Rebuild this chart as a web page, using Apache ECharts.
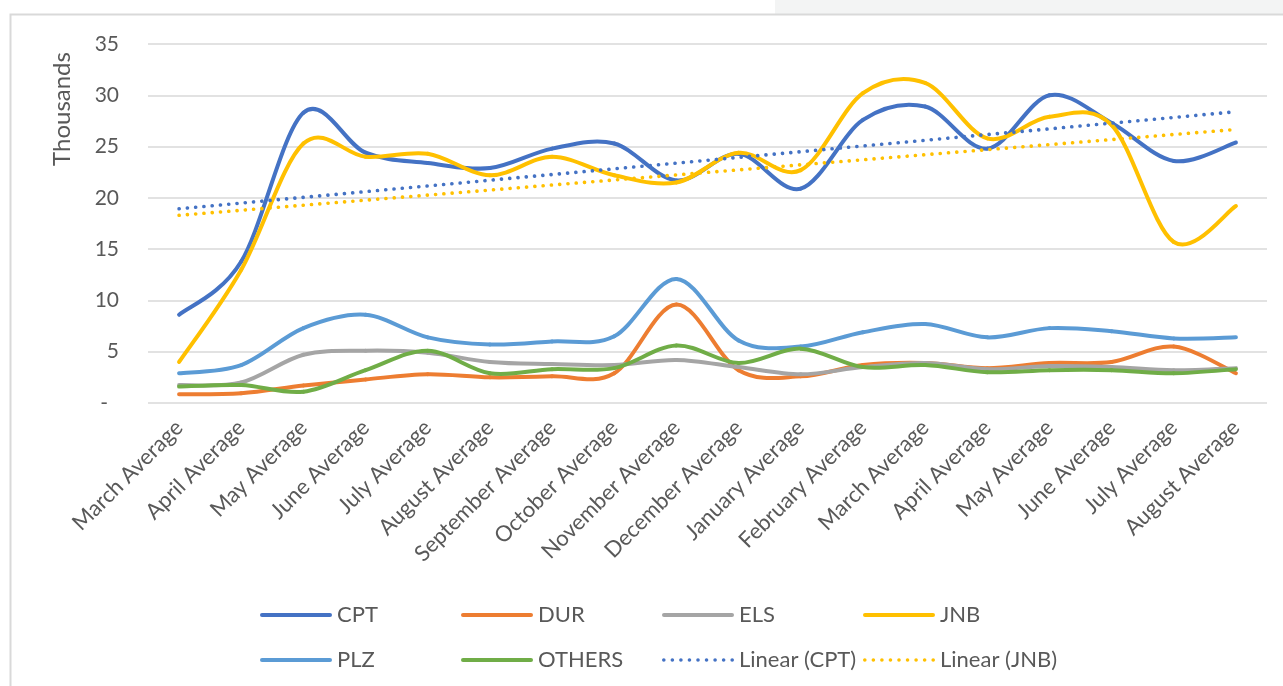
<!DOCTYPE html>
<html>
<head>
<meta charset="utf-8">
<script src="https://cdn.jsdelivr.net/npm/echarts@6/dist/echarts.min.js"></script>
<style>
html,body{margin:0;padding:0;background:#fff;}
#chart{width:1283px;height:686px;}
</style>
</head>
<body>
<div id="chart"></div>
<script>
const categories = ['March Average','April Average','May Average','June Average','July Average','August Average','September Average','October Average','November Average','December Average','January Average','February Average','March Average','April Average','May Average','June Average','July Average','August Average'];
const yTicks = [0, 5, 10, 15, 20, 25, 30, 35];
// values in thousands
const CPT    = [8.6, 13.8, 28.3, 24.4, 23.4, 22.9, 24.8, 25.3, 21.7, 24.3, 20.9, 27.6, 28.9, 24.8, 30.0, 27.3, 23.6, 25.4];
const DUR    = [0.85, 0.95, 1.7, 2.3, 2.8, 2.5, 2.6, 2.9, 9.6, 3.2, 2.6, 3.7, 3.9, 3.4, 3.9, 4.0, 5.5, 2.9];
const ELS    = [1.75, 2.0, 4.7, 5.1, 4.9, 4.0, 3.8, 3.7, 4.2, 3.5, 2.8, 3.5, 3.9, 3.3, 3.6, 3.5, 3.2, 3.4];
const JNB    = [4.0, 13.0, 25.3, 24.0, 24.3, 22.2, 24.0, 22.2, 21.5, 24.4, 22.7, 30.2, 31.2, 25.8, 27.9, 27.1, 15.7, 19.2];
const PLZ    = [2.9, 3.7, 7.3, 8.6, 6.4, 5.7, 6.0, 6.5, 12.1, 6.1, 5.5, 6.9, 7.7, 6.4, 7.3, 7.0, 6.3, 6.4];
const OTHERS = [1.6, 1.75, 1.1, 3.2, 5.1, 2.9, 3.3, 3.4, 5.6, 3.9, 5.3, 3.5, 3.7, 3.0, 3.2, 3.2, 2.9, 3.3];

// least-squares linear trendline (as Excel's "Linear" trendline)
function linearTrend(arr) {
  const n = arr.length;
  let sx = 0, sy = 0, sxx = 0, sxy = 0;
  arr.forEach((y, i) => { sx += i; sy += y; sxx += i * i; sxy += i * y; });
  const b = (n * sxy - sx * sy) / (n * sxx - sx * sx);
  const a = (sy - b * sx) / n;
  return arr.map((_, i) => a + b * i);
}

const FONT = 'Lato';
const TXT = '#595959';
const T = 1 / 6; // Catmull-Rom style smoothing like Excel

// smoothed line drawn through the axis scales (api.coord)
function smoothSeries(name, arr, color) {
  return {
    name, type: 'custom', coordinateSystem: 'cartesian2d',
    data: arr.map((v, i) => [i, v]), encode: {x: 0, y: 1},
    itemStyle: {color}, silent: true, clip: false,
    renderItem: (params, api) => {
      if (params.dataIndex !== 0) return null;
      const p = arr.map((v, i) => api.coord([i, v]));
      const children = [];
      for (let i = 0; i < p.length - 1; i++) {
        const p0 = p[i - 1] || p[i], p1 = p[i], p2 = p[i + 1], p3 = p[i + 2] || p[i + 1];
        children.push({
          type: 'bezierCurve',
          shape: {
            x1: p1[0], y1: p1[1], x2: p2[0], y2: p2[1],
            cpx1: p1[0] + (p2[0] - p0[0]) * T, cpy1: p1[1] + (p2[1] - p0[1]) * T,
            cpx2: p2[0] - (p3[0] - p1[0]) * T, cpy2: p2[1] - (p3[1] - p1[1]) * T
          },
          style: {stroke: color, lineWidth: 4, fill: null, lineCap: 'round', lineJoin: 'round'}
        });
      }
      return {type: 'group', children};
    }
  };
}
function trendSeries(name, arr, color) {
  return {
    name, type: 'custom', coordinateSystem: 'cartesian2d',
    data: arr.map((v, i) => [i, v]), encode: {x: 0, y: 1},
    itemStyle: {color}, silent: true, clip: false, z: 3,
    renderItem: (params, api) => {
      if (params.dataIndex !== 0) return null;
      const pts = arr.map((v, i) => api.coord([i, v]));
      return {
        type: 'polyline', shape: {points: pts},
        style: {stroke: color, lineWidth: 3.6, fill: null, lineCap: 'round', lineDash: [0.1, 8.2]}
      };
    }
  };
}

const LINE_ICON = 'path://M2,0H70A2,2,0,0,1,70,4H2A2,2,0,0,1,2,0Z';
let dots = '';
for (let k = 0; k < 9; k++) {
  const cx = 2 + k * 8.5;
  dots += 'M' + (cx - 1.8) + ',2A1.8,1.8,0,1,0,' + (cx + 1.8) + ',2A1.8,1.8,0,1,0,' + (cx - 1.8) + ',2Z';
}
const DOT_ICON = 'path://' + dots;

const legendRows = [
  ['CPT', 'DUR', 'ELS', 'JNB'],
  ['PLZ', 'OTHERS', 'Linear (CPT)', 'Linear (JNB)']
];
const legendCols = [260, 461, 662, 863];
const legendTops = [604, 649];
const legends = [];
legendRows.forEach((row, r) => row.forEach((name, c) => {
  legends.push({
    left: legendCols[c], top: legendTops[r], padding: 0, itemWidth: 72, itemHeight: 4, selectedMode: false,
    data: [{name, icon: name.indexOf('Linear') === 0 ? DOT_ICON : LINE_ICON}],
    textStyle: {fontFamily: FONT, fontSize: 22, color: TXT}
  });
}));

const chart = echarts.init(document.getElementById('chart'), null, {renderer: 'canvas'});
chart.setOption({
  animation: false,
  backgroundColor: '#ffffff',
  textStyle: {fontFamily: FONT},
  graphic: [
    {type: 'rect', shape: {x: 775, y: 0, width: 520, height: 14}, style: {fill: '#f3f4f4'}, silent: true, z: -10},
    {type: 'rect', shape: {x: 10.5, y: 14.5, width: 1300, height: 700}, style: {fill: 'none', stroke: '#d9d9d9', lineWidth: 2}, silent: true, z: -9},
    {type: 'text', x: 62, y: 109, rotation: Math.PI / 2,
     style: {text: 'Thousands', fontFamily: FONT, fontSize: 24, fill: TXT, align: 'center', verticalAlign: 'middle'}}
  ],
  grid: {left: 148, right: 16, top: 44, bottom: 283, containLabel: false},
  legend: legends,
  xAxis: {
    type: 'category', data: categories, boundaryGap: true,
    axisLine: {show: false}, axisTick: {show: false},
    axisLabel: {interval: 0, rotate: 45, margin: 21, fontFamily: FONT, fontSize: 22, color: TXT}
  },
  yAxis: {
    type: 'value', min: yTicks[0], max: yTicks[yTicks.length - 1], interval: 5,
    axisLine: {show: false}, axisTick: {show: false},
    splitLine: {lineStyle: {color: '#d9d9d9', width: 1.5}},
    axisLabel: {
      margin: 29, fontFamily: FONT, fontSize: 21, color: TXT,
      formatter: v => v === 0 ? '{d|-}' : String(v),
      rich: {d: {fontFamily: FONT, fontSize: 21, color: TXT, padding: [0, 11, 0, 0]}}
    }
  },
  series: [
    smoothSeries('CPT', CPT, '#4472C4'),
    smoothSeries('DUR', DUR, '#ED7D31'),
    smoothSeries('ELS', ELS, '#A5A5A5'),
    smoothSeries('JNB', JNB, '#FFC000'),
    smoothSeries('PLZ', PLZ, '#5B9BD5'),
    smoothSeries('OTHERS', OTHERS, '#70AD47'),
    trendSeries('Linear (CPT)', linearTrend(CPT), '#4472C4'),
    trendSeries('Linear (JNB)', linearTrend(JNB), '#FFC000')
  ]
});
</script>
</body>
</html>
